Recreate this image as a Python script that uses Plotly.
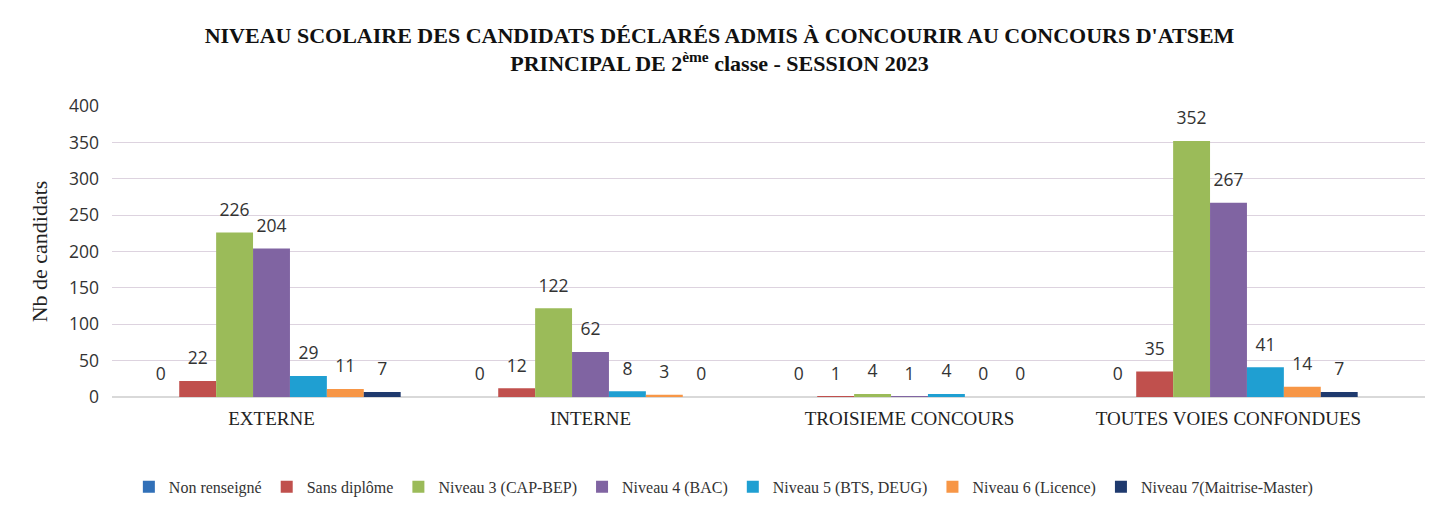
import plotly.graph_objects as go

categories = ["EXTERNE", "INTERNE", "TROISIEME CONCOURS", "TOUTES VOIES CONFONDUES"]
series_names = ["Non renseigné", "Sans diplôme", "Niveau 3 (CAP-BEP)", "Niveau 4 (BAC)",
                "Niveau 5 (BTS, DEUG)", "Niveau 6 (Licence)", "Niveau 7(Maitrise-Master)"]
non_renseigne = [0, 0, 0, 0]
sans_diplome = [22, 12, 1, 35]
niveau3 = [226, 122, 4, 352]
niveau4 = [204, 62, 1, 267]
niveau5 = [29, 8, 4, 41]
niveau6 = [11, 3, 0, 14]
niveau7 = [7, 0, 0, 7]
series_values = [non_renseigne, sans_diplome, niveau3, niveau4, niveau5, niveau6, niveau7]
colors = ["#3170b8", "#c0504d", "#9bbb59", "#8064a2", "#1f9fd2", "#f79646", "#1f3a6e"]
y_ticks = [0, 50, 100, 150, 200, 250, 300, 350, 400]

SERIF = "Liberation Serif, Times New Roman, serif"
SANS = "Open Sans, Lato, sans-serif"
GAP = 0.19

fig = go.Figure()
for i, (name, vals, col) in enumerate(zip(series_names, series_values, colors)):
    fig.add_trace(go.Bar(
        x=categories, y=vals, name=name, marker_color=col,
        marker_line_width=0, legendgroup=name,
    ))
for i, (name, vals, col) in enumerate(zip(series_names, series_values, colors)):
    fig.add_trace(go.Scatter(
        x=categories, y=vals, mode="markers+text", text=[str(v) for v in vals],
        textposition="top center",
        marker=dict(size=18, opacity=0, color=col),
        textfont=dict(family=SANS, size=17.5, color="#333333"),
        showlegend=False, hoverinfo="skip", cliponaxis=False, legendgroup=name,
    ))

fig.update_layout(
    width=1423, height=508,
    paper_bgcolor="white", plot_bgcolor="white",
    margin=dict(l=104, r=6, t=98, b=119),
    barmode="group", bargap=GAP, bargroupgap=0,
    scattermode="group", scattergap=GAP,
    title=dict(
        text="<b>NIVEAU SCOLAIRE DES CANDIDATS DÉCLARÉS ADMIS À CONCOURIR AU CONCOURS D'ATSEM<br>"
             "PRINCIPAL DE 2<sup>ème</sup> classe - SESSION 2023</b>",
        x=0.5, xanchor="center", y=0.932, yanchor="top",
        font=dict(family=SERIF, size=22, color="#111111"),
    ),
    legend=dict(
        orientation="h", x=0.466, xanchor="center", y=-0.309, yanchor="middle",
        font=dict(family=SERIF, size=16, color="#333333"),
        itemwidth=30, traceorder="normal",
    ),
    showlegend=True,
)
fig.update_xaxes(
    range=[-0.5, 3.616], showgrid=False, showline=False, ticks="",
    ticklabelstandoff=8,
    tickfont=dict(family=SERIF, size=19, color="#222222"),
)
fig.update_yaxes(
    range=[0, 400], tickvals=y_ticks, showgrid=True, gridcolor="#ddd3df", gridwidth=1,
    zeroline=True, zerolinecolor="#d9d9d9", showline=False,
    ticklabelstandoff=12,
    tickfont=dict(family=SANS, size=17.5, color="#333333"),
    title=dict(text="Nb de candidats", standoff=15,
               font=dict(family=SERIF, size=22, color="#222222")),
)
fig.write_html("out.html")
